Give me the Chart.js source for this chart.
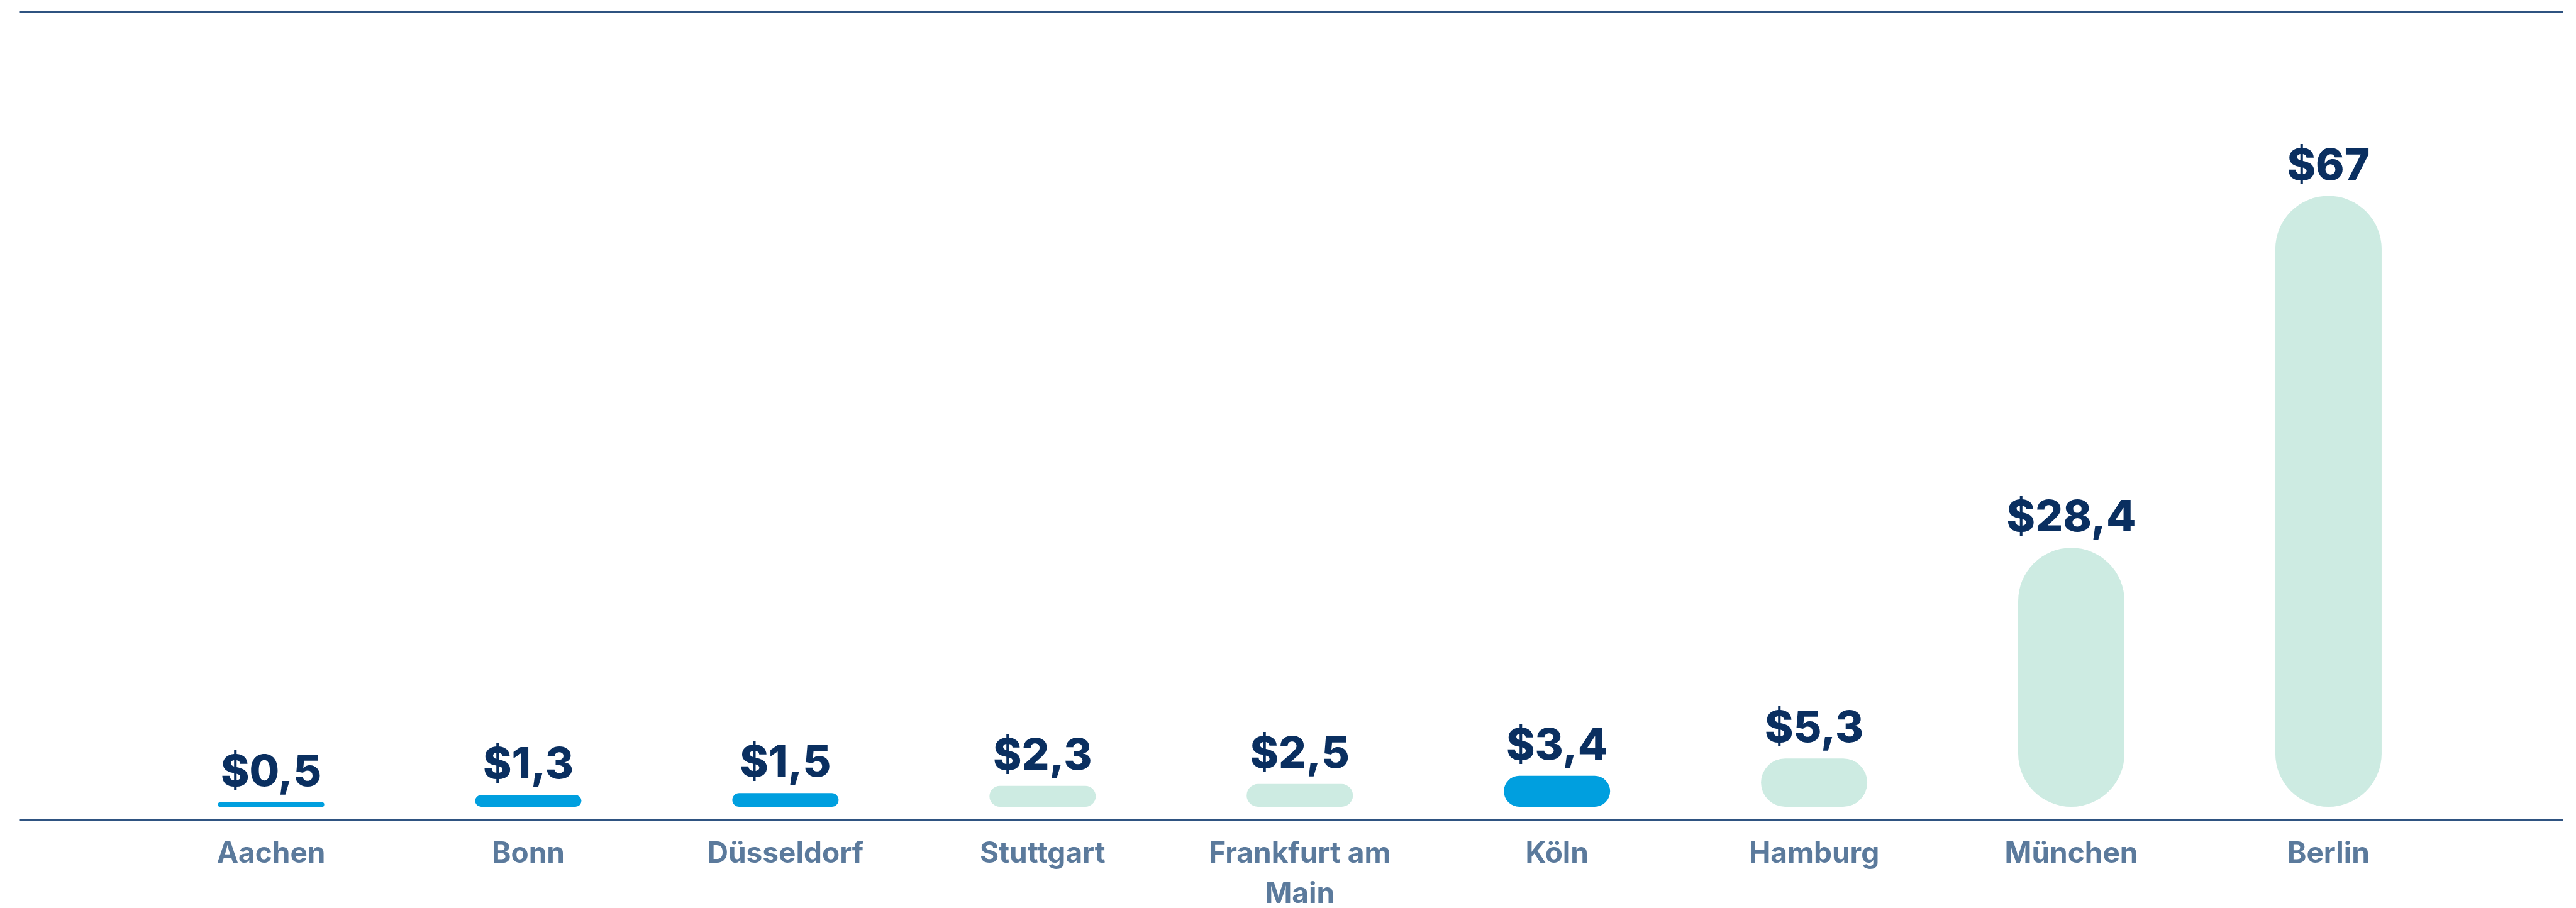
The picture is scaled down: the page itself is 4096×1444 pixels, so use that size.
<!DOCTYPE html>
<html>
<head>
<meta charset="utf-8">
<script src="https://cdn.jsdelivr.net/npm/chart.js@4.4.1/dist/chart.umd.min.js"></script>
<style>
  html, body { margin: 0; padding: 0; background: #ffffff; overflow: hidden; }
  #wrap { position: relative; width: 4096px; height: 1444px; }
  canvas { display: block; }
</style>
</head>
<body>
<div id="wrap"><canvas id="chart" width="4096" height="1444"></canvas></div>
<script>
// Cities and their values (in $ bn)
const cities = ['Aachen', 'Bonn', 'Düsseldorf', 'Stuttgart', ['Frankfurt am', 'Main'], 'Köln', 'Hamburg', 'München', 'Berlin'];
const values = [0.5, 1.3, 1.5, 2.3, 2.5, 3.4, 5.3, 28.4, 67];
// Cities located in North Rhine-Westphalia are highlighted
const inNRW = [true, true, true, false, false, true, false, false, false];

const BLUE = '#009fdf';
const MINT = '#cdebe2';
const NAVY = '#0a2f60';
const SLATE = '#5b7a9c';
const RULE = '#2f5381';
const FONT = 'Inter, "Liberation Sans", Arial, sans-serif';

const formatValue = v => '$' + String(v).replace('.', ',');

// Horizontal rules above the chart and along the baseline
const rules = {
  id: 'rules',
  beforeDraw(chart) {
    const { ctx, chartArea } = chart;
    ctx.save();
    ctx.strokeStyle = RULE;
    ctx.lineWidth = 3;
    ctx.beginPath();
    ctx.moveTo(31.5, 18.5);
    ctx.lineTo(4076, 18.5);
    ctx.moveTo(31.5, chartArea.bottom + 21);
    ctx.lineTo(4076, chartArea.bottom + 21);
    ctx.stroke();
    ctx.restore();
  }
};

// Value labels above each bar
const valueLabels = {
  id: 'valueLabels',
  afterDatasetsDraw(chart) {
    const { ctx } = chart;
    const meta = chart.getDatasetMeta(0);
    ctx.save();
    ctx.font = '800 69px ' + FONT;
    ctx.fillStyle = NAVY;
    ctx.textAlign = 'center';
    ctx.textBaseline = 'alphabetic';
    meta.data.forEach((bar, i) => {
      ctx.fillText(formatValue(values[i]), bar.x, bar.y - 26);
    });
    ctx.restore();
  }
};

new Chart(document.getElementById('chart'), {
  type: 'bar',
  data: {
    labels: cities,
    datasets: [{
      data: values,
      backgroundColor: inNRW.map(b => (b ? BLUE : MINT)),
      borderRadius: 1000,
      borderSkipped: false,
      borderWidth: 0,
      barThickness: 169,
      inflateAmount: 0
    }]
  },
  options: {
    responsive: false,
    animation: false,
    devicePixelRatio: 1,
    layout: { padding: { left: 226.6, right: 189.1, top: 268, bottom: 0 } },
    plugins: {
      legend: { display: false },
      tooltip: { enabled: false }
    },
    scales: {
      x: {
        grid: { display: false, drawTicks: false },
        border: { display: false },
        ticks: {
          color: SLATE,
          font: { family: FONT, size: 46, weight: '700', lineHeight: 1.39 },
          padding: 43,
          maxRotation: 0,
          autoSkip: false
        },
        afterFit(scale) { scale.height = 161; }
      },
      y: { display: false, min: 0, max: 70 }
    }
  },
  plugins: [rules, valueLabels]
});
</script>
</body>
</html>
